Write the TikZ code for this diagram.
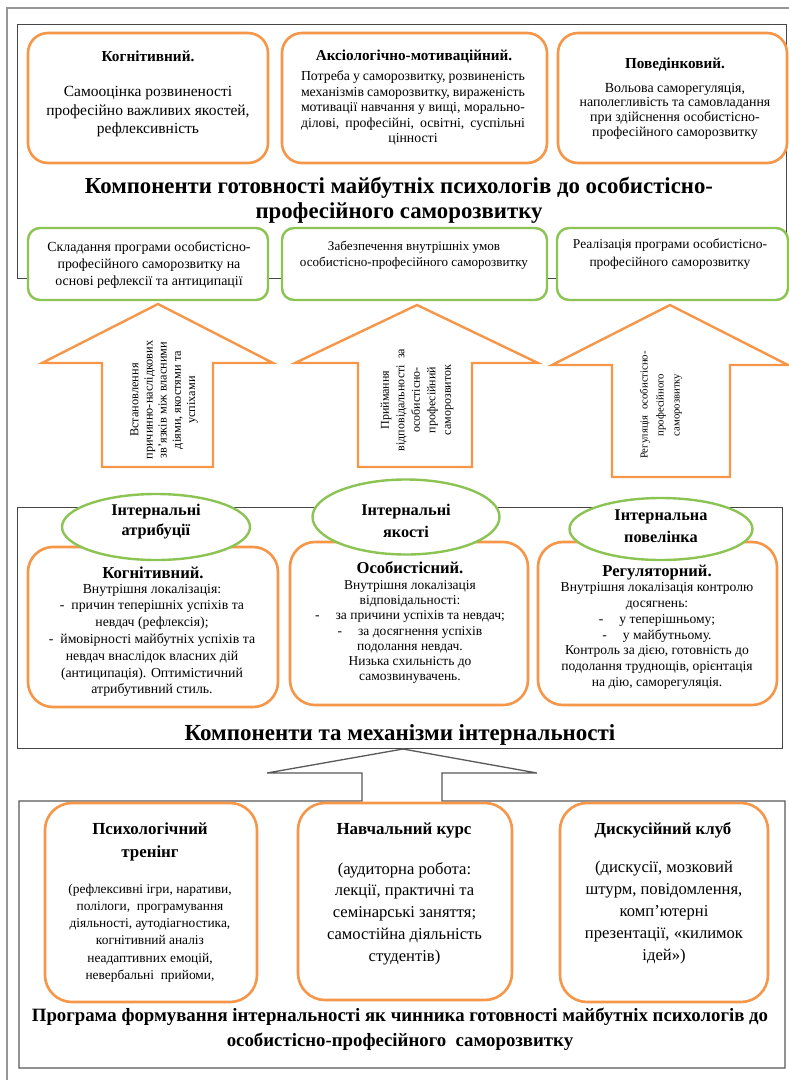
\documentclass[tikz,border=0pt]{standalone}
\usepackage{fontspec}
\setmainfont{Liberation Serif}
\usetikzlibrary{shapes.geometric}
\definecolor{ocol}{RGB}{245,150,72}
\definecolor{gcol}{RGB}{140,196,84}
\definecolor{fcol}{RGB}{70,70,70}
\definecolor{outcol}{RGB}{150,150,150}
\newcommand\myfs[2]{\fontsize{#1}{#2}\selectfont}
\tikzset{
  obox/.style={draw=ocol, line width=2.6pt, rounded corners=20pt, fill=white, inner sep=0pt},
  gbox/.style={draw=gcol, line width=2.4pt, rounded corners=12pt, fill=white, inner sep=0pt},
  gell/.style={ellipse, draw=gcol, line width=2.4pt, fill=white, inner sep=0pt},
  frm/.style={draw=fcol, line width=0.9pt},
  bfrm/.style={draw=fcol!90, line width=1.3pt, line join=miter},
  outer/.style={draw=outcol, line width=2pt},
  barrow/.style={draw=ocol, line width=2.4pt, fill=white, line join=miter},
  txt/.style={align=center, inner sep=0pt, text=black},
}
\begin{document}
\begin{tikzpicture}[x=1pt,y=-1pt]
\useasboundingbox[fill=white] (0,0) rectangle (789,1080);
% outer partial frame
\coordinate (o1) at (7,1080); \coordinate (o2) at (7,8); \coordinate (o3) at (789,8);
\draw[outer] (o1) -- (o2) -- (o3);

% ===== top section =====
\draw[frm] (17,24) rectangle (786,278);
\node[obox, minimum width=240, minimum height=130] (t1) at (148,98) {};
\node[obox, minimum width=265, minimum height=130] (t2) at (414.5,98) {};
\node[obox, minimum width=229, minimum height=130] (t3) at (672.5,98) {};

\node[txt, font=\myfs{15.3}{18}\bfseries] (t1h) at (148,56) {Когнітивний.};
\node[txt, font=\myfs{15.5}{18.5}] (t1b) at (148,112) {Самооцінка розвиненості\\професійно важливих якостей,\\рефлексивність};

\node[txt, font=\myfs{15.2}{16}\bfseries] (t2h) at (414,57) {Аксіологічно-мотиваційний.};
\node[txt, font=\myfs{13.8}{15.5}] (t2b) at (413,108) {\makebox[224pt][s]{Потреба у саморозвитку, розвиненість}\\\makebox[224pt][s]{механізмів саморозвитку, вираженість}\\\makebox[224pt][s]{мотивації навчання у вищі, морально-}\\\makebox[224pt][s]{ділові, професійні, освітні, суспільні}\\цінності};

\node[txt, font=\myfs{15.2}{16}\bfseries] (t3h) at (675,65) {Поведінковий.};
\node[txt, font=\myfs{13.9}{14.7}] (t3b) at (675,111) {Вольова саморегуляція,\\наполегливість та самовладання\\при здійснення особистісно-\\професійного саморозвитку};

\node[txt, font=\myfs{22.8}{25}\bfseries] (title1) at (399,200.5) {Компоненти готовності майбутніх психологів до особистісно-\\професійного саморозвитку};

\node[gbox, minimum width=240, minimum height=72] (g1) at (148,264) {};
\node[gbox, minimum width=265, minimum height=72] (g2) at (414.5,264) {};
\node[gbox, minimum width=231, minimum height=72] (g3) at (672.5,264) {};
\node[txt, font=\myfs{13.9}{17}] (g1t) at (149,265) {Складання програми особистісно-\\професійного саморозвитку на\\основі рефлексії та антиципації};
\node[txt, font=\myfs{13.1}{16.5}] (g2t) at (414,255) {Забезпечення внутрішніх умов\\особистісно-професійного саморозвитку};
\node[txt, font=\myfs{13.5}{18}] (g3t) at (670,254) {Реалізація програми особистісно-\\професійного саморозвитку};

% ===== block arrows =====
\draw[barrow] (102,467) -- (102,363) -- (42,363) -- (158,304) -- (273,363) -- (213,363) -- (213,467) -- cycle;
\draw[barrow] (358,467) -- (358,363) -- (295,363) -- (417,305) -- (538,363) -- (472,363) -- (472,467) -- cycle;
\draw[barrow] (612,477) -- (612,365) -- (552,365) -- (670,305) -- (788,365) -- (730,365) -- (730,477) -- cycle;
\node[txt, rotate=90, font=\myfs{12.3}{14.2}] (a1t) at (164,400) {Встановлення\\причинно-наслідкових\\зв’язків між власними\\діями, якостями та\\успіхами};
\node[txt, rotate=90, font=\myfs{12}{15.5}] (a2t) at (417,400) {Приймання\\відповідальності\ \ за\\особистісно-\\професійний\\саморозвиток};
\node[txt, rotate=90, font=\myfs{10.7}{16}] (a3t) at (661,405) {Регуляція\ \ особистісно-\\професійного\\саморозвитку};

% ===== middle section =====
\draw[frm] (17,507) rectangle (782,748);
\node[obox, rounded corners=25pt, minimum width=250, minimum height=160] (m1) at (153,627) {};
\node[obox, rounded corners=25pt, minimum width=238, minimum height=163] (m2) at (409,623.5) {};
\node[obox, rounded corners=25pt, minimum width=239, minimum height=163] (m3) at (657.5,623.5) {};

\node[gell, minimum width=188, minimum height=66] (e1) at (156,527) {};
\node[gell, minimum width=187, minimum height=75] (e2) at (406,517) {};
\node[gell, minimum width=183, minimum height=62] (e3) at (661,529) {};
\node[txt, font=\myfs{16.3}{20}\bfseries] (e1t) at (156,522) {Інтернальні\\атрибуції};
\node[txt, font=\myfs{16.3}{22}\bfseries] (e2t) at (406,521) {Інтернальні\\якості};
\node[txt, font=\myfs{16.3}{22}\bfseries] (e3t) at (661,526) {Інтернальна\\повелінка};

\node[txt, font=\myfs{16.7}{18}\bfseries] (m1h) at (153,573) {Когнітивний.};
\node[txt, font=\myfs{13.8}{16.8}] (m1b) at (152,640.5) {Внутрішня локалізація:\\-\ \ причин теперішніх успіхів та\\невдач (рефлексія);\\-\ \ ймовірності майбутніх успіхів та\\невдач внаслідок власних дій\\(антиципація). Оптимістичний\\атрибутивний стиль.};

\node[txt, font=\myfs{16.6}{18}\bfseries] (m2h) at (410,568) {Особистісний.};
\node[txt, font=\myfs{13.5}{15.3}] (m2b) at (410,632) {Внутрішня локалізація\\відповідальності:\\-\hspace{16pt}за причини успіхів та невдач;\\-\hspace{16pt}за досягнення успіхів\\подолання невдач.\\Низька схильність до\\самозвинувачень.};

\node[txt, font=\myfs{16.6}{18}\bfseries] (m3h) at (657,573) {Регуляторний.};
\node[txt, font=\myfs{13.6}{15.7}] (m3b) at (657,636) {Внутрішня локалізація контролю\\досягнень:\\-\hspace{16pt}у теперішньому;\\-\hspace{16pt}у майбутньому.\\Контроль за дією, готовність до\\подолання труднощів, орієнтація\\на дію, саморегуляція.};

\node[txt, font=\myfs{23}{24}\bfseries] (title2) at (400,735) {Компоненти та механізми інтернальності};

% ===== bottom section with hollow arrow =====
\draw[bfrm] (362,801) -- (19,801) -- (19,1068) -- (785,1068) -- (785,801) -- (442,801) -- (442,773) -- (537,773) -- (403,749) -- (267,773) -- (362,773) -- cycle;

\node[obox, rounded corners=27pt, minimum width=212, minimum height=199] (b1) at (151,902.5) {};
\node[obox, rounded corners=27pt, minimum width=214, minimum height=197] (b2) at (405,901.5) {};
\node[obox, rounded corners=27pt, minimum width=208, minimum height=199] (b3) at (664,902.5) {};

\node[txt, font=\myfs{16.9}{23}\bfseries] (b1h) at (150,841.5) {Психологічний\\тренінг};
\node[txt, font=\myfs{13.4}{17.2}] (b1b) at (150,933) {(рефлексивні ігри, наративи,\\полілоги,\ \ програмування\\діяльності, аутодіагностика,\\когнітивний аналіз\\неадаптивних емоцій,\\невербальні\ \ прийоми,};

\node[txt, font=\myfs{16.9}{18}\bfseries] (b2h) at (404,830) {Навчальний курс};
\node[txt, font=\myfs{16.6}{21.7}] (b2b) at (404.5,913.5) {(аудиторна робота:\\лекції, практичні та\\семінарські заняття;\\самостійна діяльність\\студентів)};

\node[txt, font=\myfs{16.8}{18}\bfseries] (b3h) at (663,830) {Дискусійний клуб};
\node[txt, font=\myfs{16.6}{22}] (b3b) at (664,912.5) {(дискусії, мозковий\\штурм, повідомлення,\\комп’ютерні\\презентації, «килимок\\ідей»)};

\node[txt, font=\myfs{18.8}{25}\bfseries] (title3) at (400,1029.5) {Програма формування інтернальності як чинника готовності майбутніх психологів до\\особистісно-професійного\ \ саморозвитку};
\end{tikzpicture}
\end{document}
